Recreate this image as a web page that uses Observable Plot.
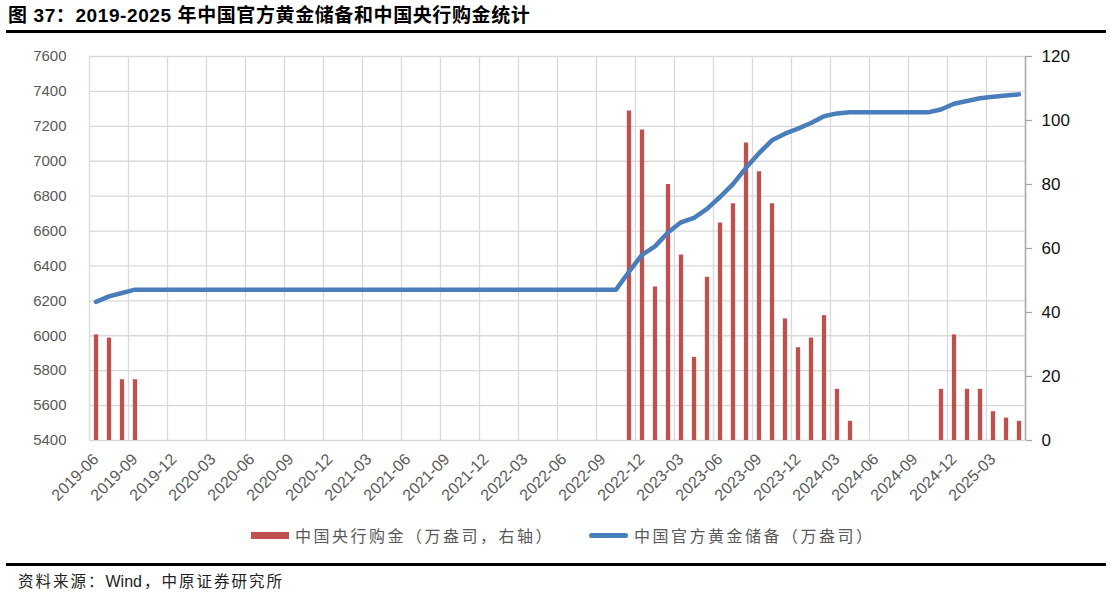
<!DOCTYPE html>
<html><head><meta charset="utf-8">
<script src="https://cdn.jsdelivr.net/npm/d3@7"></script>
<script src="https://cdn.jsdelivr.net/npm/@observablehq/plot@0.6"></script>
<style>
body{margin:0;background:#fff;}
#wrap{position:relative;width:1110px;height:597px;overflow:hidden;font-family:"Liberation Sans","Noto Sans CJK SC",sans-serif;}
#title{position:absolute;left:8px;top:3px;font-size:19px;font-weight:bold;color:#000;white-space:nowrap;line-height:26px;letter-spacing:0.6px;}
.rule{position:absolute;left:6px;right:4px;height:3px;background:#000;}
#chart{position:absolute;left:0;top:33px;}
#legend{position:absolute;top:524px;left:0;width:1110px;height:22px;font-family:"Noto Sans CJK SC",sans-serif;font-size:16px;color:#595959;letter-spacing:2.5px;}
.lg{position:absolute;top:0;line-height:22px;white-space:nowrap;}
.sw{position:absolute;}
#source{position:absolute;left:18px;top:571px;font-size:15.5px;line-height:22px;color:#222;letter-spacing:2px;font-family:"Liberation Sans","Noto Sans CJK SC",sans-serif;}
#source .w{letter-spacing:0;font-size:16px;margin-right:2px;}
</style></head><body>
<div id="wrap">
  <div id="title">图 37：2019-2025 年中国官方黄金储备和中国央行购金统计</div>
  <div class="rule" style="top:30px"></div>
  <div id="chart"></div>
  <div id="legend">
    <div class="sw" style="left:251px;top:8px;width:38px;height:7px;background:#C0504D"></div>
    <div class="lg" style="left:295px">中国央行购金（万盎司，右轴）</div>
    <div class="sw" style="left:589px;top:9px;width:39px;height:5px;border-radius:3px;background:#4A7EBB"></div>
    <div class="lg" style="left:634px">中国官方黄金储备（万盎司）</div>
  </div>
  <div class="rule" style="top:563px"></div>
  <div id="source">资料来源：<span class="w">Wind</span>，中原证券研究所</div>
</div>
<script>
const months = [
  "2019-06","2019-07","2019-08","2019-09","2019-10","2019-11","2019-12",
  "2020-01","2020-02","2020-03","2020-04","2020-05","2020-06","2020-07","2020-08","2020-09","2020-10","2020-11","2020-12",
  "2021-01","2021-02","2021-03","2021-04","2021-05","2021-06","2021-07","2021-08","2021-09","2021-10","2021-11","2021-12",
  "2022-01","2022-02","2022-03","2022-04","2022-05","2022-06","2022-07","2022-08","2022-09","2022-10","2022-11","2022-12",
  "2023-01","2023-02","2023-03","2023-04","2023-05","2023-06","2023-07","2023-08","2023-09","2023-10","2023-11","2023-12",
  "2024-01","2024-02","2024-03","2024-04","2024-05","2024-06","2024-07","2024-08","2024-09","2024-10","2024-11","2024-12",
  "2025-01","2025-02","2025-03","2025-04","2025-05"
];
// 中国官方黄金储备（万盎司）
const reserves = [
  6194,6226,6245,6264,6264,6264,6264,
  6264,6264,6264,6264,6264,6264,6264,6264,6264,6264,6264,6264,
  6264,6264,6264,6264,6264,6264,6264,6264,6264,6264,6264,6264,
  6264,6264,6264,6264,6264,6264,6264,6264,6264,6264,6367,6464,
  6512,6592,6650,6676,6727,6795,6869,6962,7046,7120,7158,7187,
  7219,7258,7274,7280,7280,7280,7280,7280,7280,7280,7296,7329,
  7345,7361,7370,7377,7383
];
// 中国央行购金（万盎司，右轴）
const purchases = [
  33,32,19,19,0,0,0,
  0,0,0,0,0,0,0,0,0,0,0,0,
  0,0,0,0,0,0,0,0,0,0,0,0,
  0,0,0,0,0,0,0,0,0,0,103,97,
  48,80,58,26,51,68,74,93,84,74,38,29,
  32,39,16,6,0,0,0,0,0,0,16,33,
  16,16,9,7,6
];
const leftTicks = [5400,5600,5800,6000,6200,6400,6600,6800,7000,7200,7400,7600];
const rightTicks = [0,20,40,60,80,100,120];
const xLabelStep = 3;

const yMin = leftTicks[0], yMax = leftTicks[leftTicks.length-1];
const rMax = rightTicks[rightTicks.length-1];
const toLeft = v => yMin + v * (yMax - yMin) / rMax;
const fromLeft = y => String(Math.round((y - yMin) * rMax / (yMax - yMin)));

const data = months.map((m, i) => ({i, m, reserve: reserves[i], buy: purchases[i], buyL: toLeft(purchases[i])}));
const n = months.length;
const xTicks = d3.range(0, n, xLabelStep);
const xGrid = d3.range(-0.5, n, xLabelStep).concat([n - 0.5]);

const chart = Plot.plot({
  width: 1110,
  height: 480,
  marginLeft: 89,
  marginRight: 85,
  marginTop: 23,
  marginBottom: 73,
  style: {fontFamily: '"Liberation Sans", "Noto Sans CJK SC", sans-serif', background: "#fff"},
  x: {type: "linear", domain: [-0.5, n - 0.5]},
  y: {domain: [yMin, yMax]},
  marks: [
    Plot.gridY(leftTicks, {stroke: "#d9d9d9", strokeOpacity: 1, strokeWidth: 1.3}),
    Plot.gridX(xGrid, {stroke: "#d9d9d9", strokeOpacity: 1, strokeWidth: 1.3}),
    Plot.ruleX(data.filter(d => d.buy > 0), {x: "i", y1: yMin, y2: "buyL", stroke: "#C0504D", strokeWidth: 4.3}),
    Plot.line(data, {x: "i", y: "reserve", stroke: "#4A7EBB", strokeWidth: 4.5, strokeLinecap: "round", strokeLinejoin: "round"}),
    Plot.ruleX([n - 0.5], {y1: yMin, y2: yMax, stroke: "#a6a6a6", strokeWidth: 1.3}),
    Plot.axisY(leftTicks, {anchor: "left", tickSize: 0, tickPadding: 23, tickFormat: d => String(d), fontSize: 15, fill: "#595959", label: null}),
    Plot.axisY(rightTicks.map(toLeft), {anchor: "right", tickSize: 6, tickPadding: 10, tickFormat: fromLeft, fontSize: 17, fill: "#111", stroke: "#a6a6a6", strokeWidth: 1.3, label: null}),
    Plot.axisX(xTicks, {anchor: "bottom", tickSize: 0, tickPadding: 16, tickRotate: -45, tickFormat: i => months[i], fontSize: 16, fill: "#595959", label: null})
  ]
});
document.getElementById("chart").appendChild(chart);
</script>
</body></html>
